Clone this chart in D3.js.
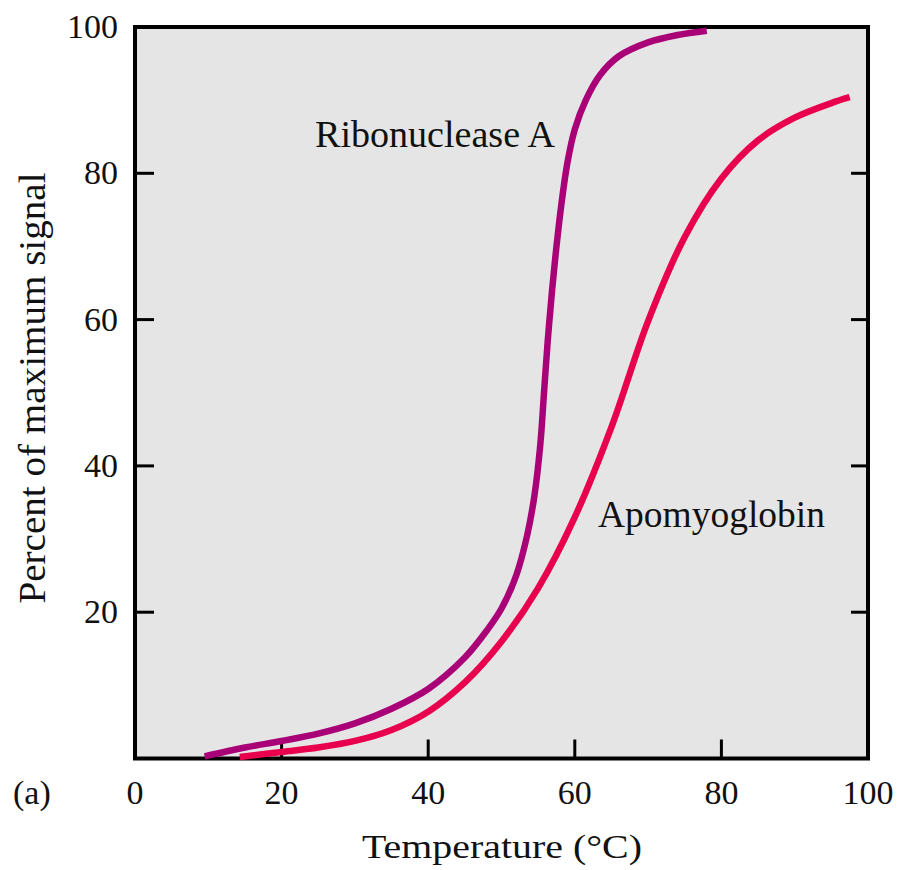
<!DOCTYPE html>
<html><head><meta charset="utf-8">
<script src="https://cdn.jsdelivr.net/npm/d3@7"></script>
<style>body{margin:0;background:#fff}svg{display:block}</style>
</head><body>
<script>
const ribonucleaseT = [9.5,15,20,25,30,35,40,45,48,50,52,53.5,54.5,55.3,55.8,56.3,56.9,57.5,58.2,59,60,61.5,63.5,66,70,74,78];
const ribonucleaseP = [0.3,1.5,2.4,3.4,4.8,6.8,9.5,13.8,17.5,20.5,25,30.5,36,43,50,57,64,70,76,81.5,86,90,93.5,96,97.9,98.9,99.5];
const apoT = [14.3,20,25,30,35,40,45,50,55,60,65,70,75,80,85,90,95,97.5];
const apoP = [0.2,0.9,1.5,2.4,3.9,6.4,10.4,16.0,23.3,33.0,45.3,59.8,71.3,79.3,84.5,87.6,89.6,90.4];
const xTickValues = [0,20,40,60,80,100];
const yTickValues = [20,40,60,80,100];
const innerTicksX = [20,40,60,80];
const innerTicksY = [20,40,60,80];
const seriesNames = ["Ribonuclease A","Apomyoglobin"];

const W = 901, H = 870;
const svg = d3.select("body").append("svg").attr("width",W).attr("height",H);
const x = d3.scaleLinear().domain([0,100]).range([135,868]);
const y = d3.scaleLinear().domain([0,100]).range([758.5,27]);
const font = "'Liberation Serif', 'Times New Roman', serif";

// background
svg.append("rect").attr("x",x(0)).attr("y",y(100)).attr("width",x(100)-x(0)).attr("height",y(0)-y(100)).attr("fill","#e5e5e5");

// inner ticks
const tk = svg.append("g").attr("stroke","#000").attr("stroke-width",3);
innerTicksX.forEach(v=>tk.append("line").attr("x1",x(v)).attr("x2",x(v)).attr("y1",y(0)).attr("y2",y(0)-19));
innerTicksY.forEach(v=>{
  tk.append("line").attr("x1",x(0)).attr("x2",x(0)+19).attr("y1",y(v)).attr("y2",y(v));
  tk.append("line").attr("x1",x(100)).attr("x2",x(100)-17).attr("y1",y(v)).attr("y2",y(v));
});

// frame
svg.append("rect").attr("x",x(0)).attr("y",y(100)).attr("width",x(100)-x(0)).attr("height",y(0)-y(100))
  .attr("fill","none").attr("stroke","#000").attr("stroke-width",4);

// tick labels
svg.append("g").selectAll("text").data(xTickValues).join("text")
  .attr("x",d=>x(d)).attr("y",804).attr("text-anchor","middle")
  .attr("font-family",font).attr("font-size",34).attr("fill","#111").text(d=>d);
svg.append("g").selectAll("text").data(yTickValues).join("text")
  .attr("x",118).attr("y",d=>y(d)+11).attr("text-anchor","end")
  .attr("font-family",font).attr("font-size",34).attr("fill","#111").text(d=>d);

svg.append("text").attr("x",13).attr("y",804).attr("font-family",font).attr("font-size",34).attr("fill","#111").text("(a)");

// axis titles
svg.append("text").attr("x",502).attr("y",858).attr("text-anchor","middle")
  .attr("font-family",font).attr("font-size",33).attr("fill","#111")
  .attr("textLength",280).attr("lengthAdjust","spacingAndGlyphs").text("Temperature (°C)");
svg.append("text").attr("transform","translate(45,388) rotate(-90)").attr("text-anchor","middle")
  .attr("font-family",font).attr("font-size",37).attr("fill","#111")
  .attr("textLength",431).attr("lengthAdjust","spacingAndGlyphs").text("Percent of maximum signal");

// curves
const line = d3.line().x(d=>x(d[0])).y(d=>y(d[1])).curve(d3.curveCatmullRom.alpha(0.5));
const ribo = ribonucleaseT.map((t,i)=>[t,ribonucleaseP[i]]);
const apo = apoT.map((t,i)=>[t,apoP[i]]);
svg.append("path").attr("d",line(ribo)).attr("fill","none").attr("stroke","#aa0077").attr("stroke-width",6.5);
svg.append("path").attr("d",line(apo)).attr("fill","none").attr("stroke","#e8004f").attr("stroke-width",6.5);

// series labels
svg.append("text").attr("x",315).attr("y",147).attr("font-family",font).attr("font-size",37).attr("fill","#111")
  .attr("textLength",240).attr("lengthAdjust","spacingAndGlyphs").text(seriesNames[0]);
svg.append("text").attr("x",598).attr("y",527).attr("font-family",font).attr("font-size",37).attr("fill","#111")
  .attr("textLength",227).attr("lengthAdjust","spacingAndGlyphs").text(seriesNames[1]);
</script>
</body></html>
